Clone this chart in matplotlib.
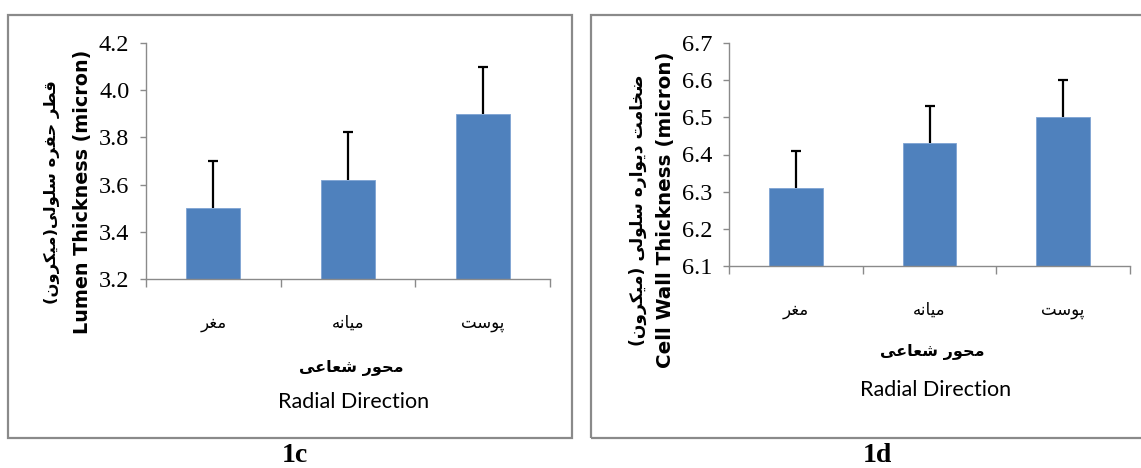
import numpy as np
import matplotlib
matplotlib.use('Agg')
from matplotlib import pyplot as plt
from matplotlib.patches import Rectangle

# ---- data ----
categories = ['مغر', 'میانه', 'پوست']
lumen_mean = [3.50, 3.62, 3.90]
lumen_err = [0.20, 0.205, 0.20]
wall_mean = [6.31, 6.43, 6.50]
wall_err = [0.10, 0.10, 0.10]

lumen_ticks = [3.2, 3.4, 3.6, 3.8, 4.0, 4.2]
wall_ticks = [6.1, 6.2, 6.3, 6.4, 6.5, 6.6, 6.7]

xlabel_fa = 'محور شعاعی'
xlabel_en = 'Radial Direction'
lumen_fa = 'قطر حفره سلولی(میکرون)'
lumen_en = 'Lumen Thickness (micron)'
wall_fa = 'ضخامت دیواره سلولی (میکرون)'
wall_en = 'Cell Wall Thickness (micron)'

# presentation forms: isolated, final, initial, medial
FORMS = {
    'ا': (0xFE8D, 0xFE8E), 'د': (0xFEA9, 0xFEAA), 'ر': (0xFEAD, 0xFEAE),
    'و': (0xFEED, 0xFEEE),
    'ت': (0xFE95, 0xFE96, 0xFE97, 0xFE98), 'ح': (0xFEA1, 0xFEA2, 0xFEA3, 0xFEA4),
    'خ': (0xFEA5, 0xFEA6, 0xFEA7, 0xFEA8), 'س': (0xFEB1, 0xFEB2, 0xFEB3, 0xFEB4),
    'ش': (0xFEB5, 0xFEB6, 0xFEB7, 0xFEB8), 'ض': (0xFEBD, 0xFEBE, 0xFEBF, 0xFEC0),
    'ط': (0xFEC1, 0xFEC2, 0xFEC3, 0xFEC4), 'ع': (0xFEC9, 0xFECA, 0xFECB, 0xFECC),
    'غ': (0xFECD, 0xFECE, 0xFECF, 0xFED0), 'ف': (0xFED1, 0xFED2, 0xFED3, 0xFED4),
    'ق': (0xFED5, 0xFED6, 0xFED7, 0xFED8), 'ل': (0xFEDD, 0xFEDE, 0xFEDF, 0xFEE0),
    'م': (0xFEE1, 0xFEE2, 0xFEE3, 0xFEE4), 'ن': (0xFEE5, 0xFEE6, 0xFEE7, 0xFEE8),
    'ه': (0xFEE9, 0xFEEA, 0xFEEB, 0xFEEC), 'پ': (0xFB56, 0xFB57, 0xFB58, 0xFB59),
    'ک': (0xFB8E, 0xFB8F, 0xFB90, 0xFB91), 'ی': (0xFBFC, 0xFBFD, 0xFBFE, 0xFBFF),
}


def fa(s):
    # tiny shaper + rtl ordering, matplotlib does no text shaping
    out = []
    for i, c in enumerate(s):
        f = FORMS.get(c)
        if f is None:
            out.append({'(': ')', ')': '('}.get(c, c))
            continue
        prev = s[i - 1] if i > 0 else None
        nxt = s[i + 1] if i + 1 < len(s) else None
        jp = prev in FORMS and len(FORMS[prev]) == 4
        jn = len(f) == 4 and nxt in FORMS
        if jp and jn:
            k = 3
        elif jp:
            k = 1
        elif jn:
            k = 2
        else:
            k = 0
        out.append(chr(f[k]))
    return ''.join(out[::-1])


W, H = 1141, 468
BAR = '#4F81BD'
GRID = '#8a8a8a'
FA_FONT = ['DejaVu Sans']
SERIF = ['Liberation Serif', 'DejaVu Serif']
LABEL_FONT = ['DejaVu Sans']
XL_FONT = ['Lato', 'DejaVu Sans']

fig = plt.figure(figsize=(W / 100, H / 100), dpi=100)


def fx(px):
    return px / W


def fy(py):
    return 1 - py / H


def frame(x0, y0, x1, y1):
    r = Rectangle((fx(x0), fy(y1)), fx(x1 - x0), (y1 - y0) / H, transform=fig.transFigure,
                  fill=False, edgecolor=GRID, linewidth=1.6)
    fig.add_artist(r)


def panel(box, means, errs, ticks, fa_lab, en_lab, ylab_x, ylab_y, xlab_y, cap, sizes):
    left, top, right, bottom = box
    ax = fig.add_axes([fx(left), fy(bottom), fx(right - left), (bottom - top) / H])
    x = np.arange(len(means))
    ax.bar(x, means, width=0.40, color=BAR, edgecolor='#7ea3d3', linewidth=0.6,
           bottom=0, zorder=2)
    eb = ax.errorbar(x, means, yerr=[np.zeros(len(errs)), errs], fmt='none', ecolor='black',
                     elinewidth=1.6, capsize=3.5, capthick=1.6, zorder=3)
    # plus direction only -> hide the cap sitting on the bar top
    eb[1][0].set_visible(False)
    ax.set_xlim(-0.5, len(means) - 0.5)
    ax.set_ylim(ticks[0], ticks[-1])
    ax.set_yticks(ticks)
    ax.set_yticklabels(['%.1f' % t for t in ticks], family=SERIF, fontsize=17.5)
    ax.set_xticks(np.arange(len(means) + 1) - 0.5)
    ax.set_xticklabels([])
    ax.set_xticks(x, minor=True)
    ax.set_xticklabels([fa(c) for c in categories], minor=True, family=FA_FONT, fontsize=12)
    ax.tick_params(axis='x', which='major', direction='out', length=6, width=1, color=GRID)
    ax.tick_params(axis='x', which='minor', length=0, pad=25)
    ax.tick_params(axis='y', direction='out', length=4, width=1, color=GRID, pad=8)
    for s in ['top', 'right']:
        ax.spines[s].set_visible(False)
    for s in ['left', 'bottom']:
        ax.spines[s].set_color(GRID)
        ax.spines[s].set_linewidth(1)

    # two line y label: persian + english
    fig.text(fx(ylab_x[0]), fy(ylab_y), fa(fa_lab), rotation=90, ha='center', va='center',
             family=FA_FONT, fontsize=sizes[0], fontweight='bold')
    fig.text(fx(ylab_x[1]), fy(ylab_y), en_lab, rotation=90, ha='center', va='center',
             family=LABEL_FONT, fontsize=sizes[1], fontweight='bold')
    xc = (left + right) / 2 + 3
    fig.text(fx(xc), fy(xlab_y[0]), fa(xlabel_fa), ha='center', va='center',
             family=FA_FONT, fontsize=11.5, fontweight='bold')
    fig.text(fx(xc + 3), fy(xlab_y[1]), xlabel_en, ha='center', va='center',
             family=XL_FONT, fontsize=15.5)
    fig.text(fx(cap[0]), fy(cap[1]), cap[2], ha='center', va='center',
             family=SERIF, fontsize=20, fontweight='bold')
    return ax


frame(8, 15, 572, 438)
frame(591, 15, 1150, 438)

panel((146, 43, 550, 279), lumen_mean, lumen_err, lumen_ticks, lumen_fa, lumen_en,
      (52, 83), 192, (368, 402), (295, 456, '1c'), (11.8, 13.8))
panel((729, 43, 1130, 266), wall_mean, wall_err, wall_ticks, wall_fa, wall_en,
      (638, 665), 210, (352, 390), (877, 455, '1d'), (12.3, 14.3))

fig.savefig('out.png', dpi=100)
